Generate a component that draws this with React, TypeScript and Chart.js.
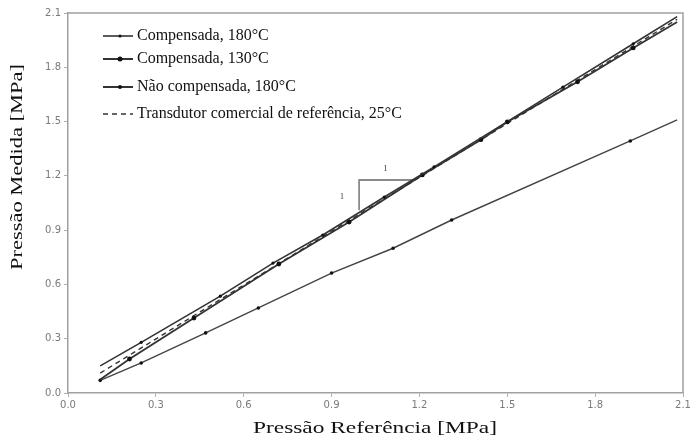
import React, { useEffect, useRef } from "react";
import { Chart, registerables } from "chart.js";

Chart.register(...registerables);

// ---- data ----
const comp180X = [0.11, 0.25, 0.52, 0.70, 0.87, 1.08, 1.25, 1.50, 1.69, 1.93, 2.08];
const comp180Y = [0.15, 0.28, 0.535, 0.718, 0.873, 1.083, 1.25, 1.50, 1.69, 1.93, 2.08];

const comp130X = [0.11, 0.21, 0.43, 0.72, 0.96, 1.21, 1.41, 1.50, 1.74, 1.93, 2.08];
const comp130Y = [0.075, 0.188, 0.414, 0.713, 0.945, 1.205, 1.40, 1.498, 1.72, 1.907, 2.05];

const naoCompX = [0.11, 0.25, 0.47, 0.65, 0.90, 1.11, 1.31, 1.92, 2.08];
const naoCompY = [0.07, 0.166, 0.332, 0.47, 0.663, 0.80, 0.956, 1.393, 1.509];

const refX = [0.11, 2.08];
const refY = [0.11, 2.065];

const triX = [0.994, 0.994, 1.175];
const triY = [1.01, 1.177, 1.177];

const legendLabels = [
  "Compensada, 180°C",
  "Compensada, 130°C",
  "Não compensada, 180°C",
  "Transdutor comercial de referência, 25°C",
];

const xTitle = "Pressão Referência [MPa]";
const yTitle = "Pressão Medida [MPa]";

const toPts = (xs: number[], ys: number[]) => xs.map((x, i) => ({ x, y: ys[i] }));

export default function App() {
  const ref = useRef<HTMLCanvasElement | null>(null);

  useEffect(() => {
    document.body.style.margin = "0";
    const canvas = ref.current;
    if (!canvas) return;

    const lineColor = "#333333";

    const drawStretched = (ctx: any, text: string, cx: number, cy: number, rot: number, targetW: number) => {
      ctx.save();
      ctx.translate(cx, cy);
      ctx.rotate(rot);
      const w = ctx.measureText(text).width;
      ctx.scale(targetW / w, 1);
      ctx.textAlign = "center";
      ctx.textBaseline = "middle";
      ctx.fillText(text, 0, 0);
      ctx.restore();
    };

    const framePlugin = {
      id: "framePlugin",
      afterDraw(chart: any) {
        const { ctx, chartArea, scales } = chart;
        ctx.save();
        ctx.strokeStyle = "#a0a0a0";
        ctx.lineWidth = 1.5;
        ctx.beginPath();
        ctx.moveTo(chartArea.left, chartArea.top);
        ctx.lineTo(chartArea.right, chartArea.top);
        ctx.lineTo(chartArea.right, chartArea.bottom);
        ctx.stroke();

        // axis titles
        ctx.fillStyle = "#111";
        ctx.font = "17px 'Liberation Serif'";
        drawStretched(ctx, xTitle, 375, 429, 0, 244);
        drawStretched(ctx, yTitle, 18, 167, -Math.PI / 2, 206);

        // triangle labels
        ctx.fillStyle = "#444";
        ctx.font = "9px 'Liberation Serif'";
        ctx.textAlign = "center";
        ctx.textBaseline = "middle";
        const xs = scales.x, ys = scales.y;
        ctx.fillText("1", xs.getPixelForValue(triX[0]) - 17, ys.getPixelForValue((triY[0] + triY[1]) / 2) + 2);
        ctx.fillText("1", xs.getPixelForValue((triX[1] + triX[2]) / 2), ys.getPixelForValue(triY[1]) - 11);

        // legend
        const rowsY = [36, 59, 87, 114];
        const x0 = 103, x1 = 133, tx = 137;
        ctx.textAlign = "left";
        ctx.font = "16px 'Liberation Serif'";
        const styles = [
          { w: 1.6, r: 1.5, dash: [] as number[] },
          { w: 2, r: 2.5, dash: [] as number[] },
          { w: 2, r: 2, dash: [] as number[] },
          { w: 1.5, r: 0, dash: [5, 4] },
        ];
        legendLabels.forEach((lab, i) => {
          const y = rowsY[i];
          const s = styles[i];
          ctx.strokeStyle = lineColor;
          ctx.lineWidth = s.w;
          ctx.setLineDash(s.dash);
          ctx.beginPath();
          ctx.moveTo(x0, y);
          ctx.lineTo(x1, y);
          ctx.stroke();
          ctx.setLineDash([]);
          if (s.r > 0) {
            ctx.fillStyle = "#111";
            ctx.beginPath();
            ctx.arc((x0 + x1) / 2 + 2, y, s.r, 0, Math.PI * 2);
            ctx.fill();
          }
          ctx.fillStyle = "#111";
          ctx.textBaseline = "middle";
          ctx.fillText(lab, tx, y);
        });
        ctx.restore();
      },
    };

    const chart = new Chart(canvas, {
      type: "line",
      data: {
        datasets: [
          {
            label: legendLabels[0],
            data: toPts(comp180X, comp180Y),
            borderColor: lineColor,
            borderWidth: 1.6,
            pointRadius: (c: any) => (c.dataIndex === 0 || c.dataIndex === comp180X.length - 1 ? 0 : 1.6),
            pointBackgroundColor: "#111",
            pointBorderWidth: 0,
          },
          {
            label: legendLabels[1],
            data: toPts(comp130X, comp130Y),
            borderColor: lineColor,
            borderWidth: 1.8,
            pointRadius: (c: any) => (c.dataIndex === 0 || c.dataIndex === comp130X.length - 1 ? 0 : 2.4),
            pointBackgroundColor: "#111",
            pointBorderWidth: 0,
          },
          {
            label: legendLabels[2],
            data: toPts(naoCompX, naoCompY),
            borderColor: "#444",
            borderWidth: 1.4,
            pointRadius: (c: any) => (c.dataIndex === naoCompX.length - 1 ? 0 : 1.8),
            pointBackgroundColor: "#111",
            pointBorderWidth: 0,
          },
          {
            label: legendLabels[3],
            data: toPts(refX, refY),
            borderColor: lineColor,
            borderWidth: 1.4,
            borderDash: [5, 4],
            pointRadius: 0,
          },
          {
            label: "triangle",
            data: toPts(triX, triY),
            borderColor: "#8a8a8a",
            borderWidth: 1.8,
            pointRadius: 0,
          },
        ],
      },
      options: {
        animation: false,
        responsive: false,
        maintainAspectRatio: false,
        layout: { padding: { top: 13, right: 12, left: 0, bottom: 0 } },
        plugins: {
          legend: { display: false },
          tooltip: { enabled: false },
        },
        scales: {
          x: {
            type: "linear",
            min: 0,
            max: 2.1,
            afterFit: (s: any) => {
              s.height = 46;
            },
            ticks: {
              stepSize: 0.3,
              color: "#7a7a7a",
              font: { family: "'DejaVu Sans'", size: 10 },
              padding: 2,
              callback: (v: any) => Number(v).toFixed(1),
            },
            grid: { drawOnChartArea: false, drawTicks: true, tickLength: 4, color: "#b0b0b0" },
            border: { display: true, color: "#a0a0a0", width: 1.5 },
          },
          y: {
            type: "linear",
            min: 0,
            max: 2.1,
            afterFit: (s: any) => {
              s.width = 68;
            },
            ticks: {
              stepSize: 0.3,
              color: "#7a7a7a",
              font: { family: "'DejaVu Sans'", size: 10 },
              padding: 3,
              callback: (v: any) => Number(v).toFixed(1),
            },
            grid: { drawOnChartArea: false, drawTicks: true, tickLength: 4, color: "#b0b0b0" },
            border: { display: true, color: "#a0a0a0", width: 1.5 },
          },
        },
      },
      plugins: [framePlugin],
    } as any);

    return () => chart.destroy();
  }, []);

  return (
    <div style={{ width: 695, height: 439, background: "#fff" }}>
      <canvas ref={ref} width={695} height={439} style={{ display: "block" }} />
    </div>
  );
}
